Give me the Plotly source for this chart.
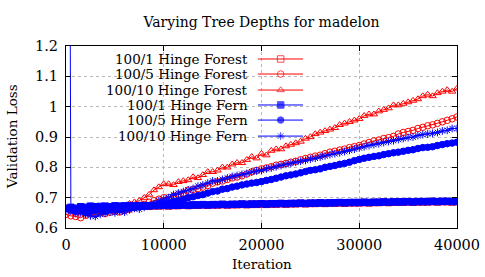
import plotly.graph_objects as go

ITERATIONS = list(range(0, 40001, 500))

FOREST_1 = [0.665, 0.66, 0.655, 0.66, 0.662, 0.665, 0.66, 0.664, 0.666, 0.668, 0.667, 0.669, 0.67, 0.671, 0.672,
            0.672, 0.673, 0.672, 0.673, 0.673, 0.674,
            0.673, 0.674, 0.674, 0.675, 0.674, 0.675, 0.675, 0.676, 0.675, 0.676,
            0.676, 0.677, 0.676, 0.677, 0.677, 0.678, 0.677, 0.678, 0.678, 0.679,
            0.678, 0.679, 0.679, 0.680, 0.679, 0.680, 0.680, 0.681, 0.680, 0.681,
            0.681, 0.682, 0.681, 0.682, 0.682, 0.683, 0.682, 0.683, 0.683, 0.683,
            0.684, 0.683, 0.684, 0.684, 0.685, 0.684, 0.685, 0.685, 0.685, 0.686,
            0.685, 0.686, 0.686, 0.686, 0.687, 0.686, 0.687, 0.687, 0.686, 0.687]

FOREST_5 = [0.645, 0.64, 0.638, 0.634, 0.642, 0.648, 0.645, 0.65, 0.648, 0.652,
            0.655, 0.653, 0.658, 0.662, 0.667, 0.672, 0.678, 0.685, 0.69, 0.695,
            0.70, 0.70, 0.705, 0.712, 0.715, 0.725, 0.727, 0.73, 0.735, 0.74,
            0.748, 0.752, 0.755, 0.76, 0.765, 0.768, 0.772, 0.778, 0.785, 0.79,
            0.795, 0.798, 0.802, 0.807, 0.81, 0.813, 0.817, 0.82, 0.825, 0.829,
            0.833, 0.837, 0.84, 0.845, 0.85, 0.853, 0.857, 0.86, 0.865, 0.868,
            0.872, 0.877, 0.882, 0.887, 0.89, 0.895, 0.898, 0.902, 0.91, 0.915,
            0.918, 0.922, 0.928, 0.932, 0.937, 0.94, 0.945, 0.95, 0.955, 0.96,
            0.966]

FOREST_10 = [0.665, 0.66, 0.658, 0.662, 0.66, 0.664, 0.662, 0.665, 0.663, 0.667, 0.668, 0.67,
             0.67, 0.68, 0.685, 0.69, 0.70, 0.71, 0.725, 0.735,
             0.745, 0.745, 0.742, 0.752, 0.755, 0.758, 0.768, 0.765, 0.775, 0.785,
             0.785, 0.79, 0.80, 0.80, 0.81, 0.815, 0.815, 0.825, 0.835, 0.83,
             0.845, 0.84, 0.855, 0.86, 0.86, 0.87, 0.875, 0.88, 0.885, 0.895,
             0.90, 0.91, 0.915, 0.92, 0.925, 0.93, 0.94, 0.945, 0.95, 0.955,
             0.96, 0.97, 0.975, 0.975, 0.985, 0.99, 0.995, 1.005, 1.005, 1.01,
             1.015, 1.02, 1.025, 1.035, 1.04, 1.035, 1.045, 1.05, 1.055, 1.05,
             1.06]

FERN_1 = [5.0, 0.668, 0.665, 0.67, 0.668, 0.672, 0.67, 0.671, 0.672, 0.67, 0.673, 0.672, 0.673, 0.674, 0.673,
          0.673, 0.674, 0.673, 0.674, 0.674, 0.675,
          0.674, 0.675, 0.675, 0.676, 0.675, 0.676, 0.676, 0.677, 0.676, 0.677,
          0.677, 0.678, 0.677, 0.678, 0.678, 0.679, 0.678, 0.679, 0.679, 0.680,
          0.679, 0.680, 0.680, 0.681, 0.680, 0.681, 0.681, 0.682, 0.681, 0.682,
          0.682, 0.683, 0.682, 0.683, 0.683, 0.684, 0.683, 0.684, 0.684, 0.684,
          0.685, 0.684, 0.685, 0.685, 0.686, 0.685, 0.686, 0.686, 0.686, 0.687,
          0.686, 0.687, 0.687, 0.687, 0.688, 0.687, 0.688, 0.688, 0.687, 0.688]

FERN_5 = [0.665, 0.66, 0.655, 0.66, 0.65, 0.655, 0.658, 0.66, 0.655, 0.66, 0.662, 0.66, 0.665, 0.665, 0.668, 0.67,
          0.672, 0.674, 0.676, 0.678,
          0.68, 0.683, 0.688, 0.69, 0.695, 0.70, 0.703, 0.707, 0.71, 0.715,
          0.72, 0.722, 0.728, 0.73, 0.735, 0.738, 0.742, 0.745, 0.748, 0.75,
          0.753, 0.757, 0.76, 0.764, 0.768, 0.772, 0.775, 0.778, 0.782, 0.786,
          0.79, 0.792, 0.795, 0.80, 0.803, 0.806, 0.81, 0.813, 0.817, 0.822,
          0.826, 0.83, 0.833, 0.836, 0.838, 0.842, 0.845, 0.848, 0.85, 0.853,
          0.856, 0.858, 0.862, 0.865, 0.866, 0.868, 0.872, 0.875, 0.878, 0.88,
          0.883]

FERN_10 = [0.66, 0.655, 0.648, 0.65, 0.645, 0.64, 0.638, 0.645, 0.648, 0.652, 0.65, 0.655, 0.652, 0.66, 0.665, 0.662,
           0.668, 0.672, 0.68, 0.69,
           0.695, 0.70, 0.71, 0.715, 0.72, 0.725, 0.73, 0.738, 0.742, 0.748,
           0.755, 0.755, 0.76, 0.765, 0.77, 0.773, 0.777, 0.78, 0.785, 0.788,
           0.79, 0.795, 0.798, 0.802, 0.806, 0.81, 0.813, 0.817, 0.82, 0.823,
           0.827, 0.83, 0.834, 0.838, 0.842, 0.845, 0.848, 0.852, 0.856, 0.86,
           0.864, 0.868, 0.872, 0.875, 0.878, 0.882, 0.885, 0.888, 0.892, 0.895,
           0.898, 0.90, 0.905, 0.908, 0.91, 0.912, 0.915, 0.92, 0.922, 0.928,
           0.928]

SERIES_NAMES = ["100/1 Hinge Forest", "100/5 Hinge Forest", "100/10 Hinge Forest",
                "100/1 Hinge Fern", "100/5 Hinge Fern", "100/10 Hinge Fern"]
SERIES_VALUES = [FOREST_1, FOREST_5, FOREST_10, FERN_1, FERN_5, FERN_10]
SERIES_COLORS = ["#ff0000", "#ff0000", "#ff0000", "#0000ff", "#0000ff", "#0000ff"]
SERIES_SYMBOLS = ["square-open", "circle-open", "triangle-up-open", "square", "circle", "asterisk-open"]

X_TICKS = [0, 10000, 20000, 30000, 40000]
Y_TICKS = [0.6, 0.7, 0.8, 0.9, 1.0, 1.1, 1.2]
Y_TICK_LABELS = ["0.6", "0.7", "0.8", "0.9", "1", "1.1", "1.2"]

for v in SERIES_VALUES:
    assert len(v) == len(ITERATIONS), len(v)

FONT = "DejaVu Serif"
fig = go.Figure()

for name, vals, col, sym in zip(SERIES_NAMES, SERIES_VALUES, SERIES_COLORS, SERIES_SYMBOLS):
    fig.add_trace(go.Scatter(
        x=ITERATIONS, y=vals, mode="lines+markers", name=name,
        line=dict(color=col, width=1),
        marker=dict(symbol=sym, size=6.5, color=col, line=dict(color=col, width=1)),
        showlegend=False,
    ))

# custom gnuplot-style legend (text left, sample right)
row_y = [0.9286, 0.846, 0.758, 0.676, 0.593, 0.505]
for name, col, sym, ry in zip(SERIES_NAMES, SERIES_COLORS, SERIES_SYMBOLS, row_y):
    fig.add_trace(go.Scatter(
        x=[0.491, 0.549, 0.606], y=[ry, ry, ry], xaxis="x2", yaxis="y2",
        mode="lines+markers", line=dict(color=col, width=1),
        marker=dict(symbol=sym, size=[0, 6.5, 0], color=col, line=dict(color=col, width=1)),
        showlegend=False, hoverinfo="skip",
    ))
    fig.add_annotation(xref="paper", yref="paper", x=0.4706, y=ry, text=name,
                       showarrow=False, xanchor="right", yanchor="middle",
                       font=dict(family=FONT, size=13.5, color="#000"))

fig.add_shape(type="rect", xref="paper", yref="paper", x0=0.074, x1=0.624, y0=0.467, y1=0.985,
              fillcolor="white", line=dict(width=0), layer="between")

# axis titles as annotations (gnuplot positions)
fig.add_annotation(xref="paper", yref="paper", x=0.5, y=-0.2, text="Iteration",
                   showarrow=False, xanchor="center", yanchor="middle",
                   font=dict(family=FONT, size=13.5, color="#000"))
fig.add_annotation(xref="paper", yref="paper", x=-0.138, y=0.5, text="Validation Loss",
                   showarrow=False, xanchor="center", yanchor="middle", textangle=-90,
                   font=dict(family=FONT, size=13.5, color="#000"))

axis_common = dict(showline=True, linecolor="black", linewidth=1, mirror="ticks",
                   ticks="inside", ticklen=5, tickcolor="black", automargin=False,
                   showgrid=True, gridcolor="#b8b8b8", griddash="dot", gridwidth=1,
                   zeroline=False, tickfont=dict(family=FONT, size=14.5, color="#000"))

fig.update_layout(
    width=485, height=277,
    margin=dict(l=66, r=28, t=46, b=49),
    paper_bgcolor="white", plot_bgcolor="white",
    title=dict(text="Varying Tree Depths for madelon", x=0.539, xanchor="center",
               y=0.92, yanchor="middle", font=dict(family=FONT, size=14, color="#000")),
    xaxis=dict(range=[0, 40000], tickvals=X_TICKS, ticktext=[str(t) for t in X_TICKS],
               ticklabelstandoff=4, **axis_common),
    yaxis=dict(range=[0.6, 1.2], tickvals=Y_TICKS, ticktext=Y_TICK_LABELS,
               ticklabelstandoff=4, **axis_common),
    xaxis2=dict(range=[0, 1], overlaying="x", visible=False, fixedrange=True),
    yaxis2=dict(range=[0, 1], overlaying="y", visible=False, fixedrange=True),
)

fig.write_html("out.html", config={"displayModeBar": False},
               post_script="document.body.style.margin='0px';document.body.style.padding='0px';")
